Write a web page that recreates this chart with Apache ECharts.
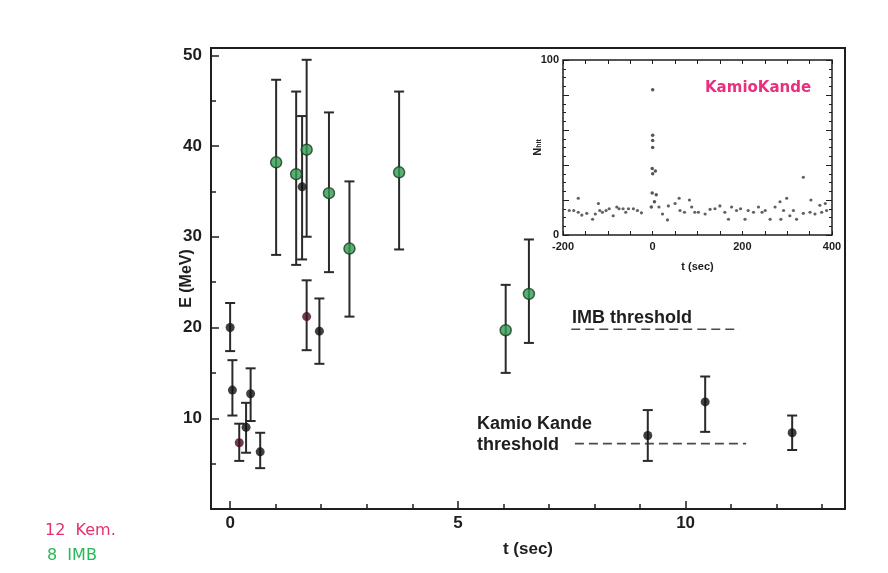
<!DOCTYPE html>
<html>
<head>
<meta charset="utf-8">
<script src="https://cdn.jsdelivr.net/npm/echarts@6/dist/echarts.min.js"></script>
<style>
  html, body { margin: 0; padding: 0; background: #fff; }
  #chart { width: 888px; height: 573px; }
</style>
</head>
<body>
<div id="chart"></div>
<script>
// SN1987A neutrino burst: Kamiokande and IMB events, energy vs. arrival time

// Kamiokande events (t in s, E in MeV, error bar limits)
const kamT  = [0.00, 0.05, 0.20, 0.35, 0.45, 0.66, 1.58, 1.68, 1.96, 9.17, 10.43, 12.34];
const kamE  = [20.0, 13.1, 7.3, 9.0, 12.7, 6.3, 35.5, 21.2, 19.6, 8.1, 11.8, 8.4];
const kamLo = [17.4, 10.3, 5.3, 6.2, 9.7, 4.5, 27.5, 17.5, 16.0, 5.3, 8.5, 6.5];
const kamHi = [22.7, 16.4, 9.4, 11.7, 15.5, 8.4, 43.3, 25.2, 23.2, 10.9, 14.6, 10.3];

// IMB events
const imbT  = [1.01, 1.45, 1.68, 2.17, 2.62, 3.71, 6.05, 6.56];
const imbE  = [38.2, 36.9, 39.6, 34.8, 28.7, 37.1, 19.7, 23.7];
const imbLo = [28.0, 26.9, 30.0, 26.1, 21.2, 28.6, 15.0, 18.3];
const imbHi = [47.3, 46.0, 49.5, 43.7, 36.1, 46.0, 24.7, 29.7];

// Detector thresholds (E level and t span of the dashed guide)
const imbThreshold = { E: 19.8, t: [7.49, 11.18] };
const kamThreshold = { E: 7.2,  t: [7.57, 11.33] };

// Main axes ticks
const xLabels = [0, 5, 10];
const xMinor  = [1, 2, 3, 4, 6, 7, 8, 9, 11, 12, 13];
const yLabels = [10, 20, 30, 40, 50];
const yMinor  = [5, 15, 25, 35, 45];

// Inset: Kamiokande hit counts around the burst (t in s, N_hit)
const insetBurstT = [0, 0, 0, 0, -1, 6, 0, -1, 8, 4, -3];
const insetBurstN = [83, 57, 54, 50, 38, 36.6, 35, 24, 23, 19, 16];
const insetBgT = [-166, -176, -166, -158, -147, -134, -121, -118, -112, -97, -88, -80, -75, -66, -54, -43,
                  -34, -25, 14, 35, 33, 50, 59, 61, 82, 87, 94, 102, 128, 139, 150, 161, 169, 176, 187,
                  206, 213, 225, 236, 251, 262, 273, 284, 286, 292, 299, 306, 321, 336, 336, 351, 353,
                  373, 377, 385, 388, -186, -128, -104, -60, 22, 71, 117, 196, 244, 314, 362];
const insetBgN = [21, 14, 13, 11.4, 12.4, 9, 18, 14, 13, 15, 11, 16, 15, 15, 15, 15,
                  14, 12.7, 16, 16.6, 8.6, 18, 21, 14, 20, 16, 13, 13, 14.7, 15, 16.6, 13, 9, 16, 14,
                  9, 14, 13, 16, 14, 9, 16, 19, 9, 14, 21, 11, 9, 33, 12.4, 13, 20,
                  17, 13, 18, 14, 14, 12, 14, 13, 12, 13, 12, 15, 13, 14, 12];
const insetXLabels = [-200, 0, 200, 400];
const insetXTicks  = [-200, -150, -100, -50, 0, 50, 100, 150, 200, 250, 300, 350, 400];
const insetYLabels = [0, 100];
const insetYMajor  = [0, 20, 40, 60, 80, 100];
const insetYMinor  = [5, 10, 15, 25, 30, 35, 45, 50, 55, 65, 70, 75, 85, 90, 95];

// ---- styling ----
const FONT = '"Liberation Sans", Arial, Helvetica, sans-serif';
const INK = '#1e1e1e';
const KAM_DARK_RED = [2, 7];   // events drawn in a dark red tint

function zip(a, b) { return a.map((v, i) => [v, b[i]]); }

function errorBarSeries(name, t, lo, hi) {
  return {
    name: name,
    type: 'custom',
    xAxisIndex: 0, yAxisIndex: 0,
    z: 2,
    data: t.map((v, i) => [v, lo[i], hi[i]]),
    renderItem: function (params, api) {
      const x = api.value(0);
      const pLo = api.coord([x, api.value(1)]);
      const pHi = api.coord([x, api.value(2)]);
      const cap = 5;
      const style = { stroke: '#2a2a2a', lineWidth: 2 };
      return {
        type: 'group',
        children: [
          { type: 'line', shape: { x1: pLo[0], y1: pLo[1], x2: pHi[0], y2: pHi[1] }, style: style },
          { type: 'line', shape: { x1: pHi[0] - cap, y1: pHi[1], x2: pHi[0] + cap, y2: pHi[1] }, style: style },
          { type: 'line', shape: { x1: pLo[0] - cap, y1: pLo[1], x2: pLo[0] + cap, y2: pLo[1] }, style: style }
        ]
      };
    }
  };
}

function tickAxis(opts) {
  return Object.assign({
    type: 'value',
    axisLine: { show: false, onZero: false },
    splitLine: { show: false },
    axisLabel: { show: false },
    nameMoveOverlap: false,
    axisTick: { show: true, inside: true, length: 5, lineStyle: { color: INK, width: 1.5 } }
  }, opts);
}

const chart = echarts.init(document.getElementById('chart'), null, { renderer: 'canvas' });

const option = {
  backgroundColor: '#ffffff',
  animation: false,
  grid: [
    { left: 211, top: 48, width: 634, height: 461, show: true, borderColor: INK, borderWidth: 2, backgroundColor: 'transparent' },
    { left: 563, top: 60, width: 269, height: 175, show: true, borderColor: INK, borderWidth: 1.5, backgroundColor: '#ffffff' }
  ],
  xAxis: [
    tickAxis({
      gridIndex: 0, min: -0.42, max: 13.5, position: 'bottom',
      axisTick: { show: true, inside: true, length: 8, customValues: xLabels, lineStyle: { color: INK, width: 1.5 } },
      axisLabel: { show: true, customValues: xLabels, margin: 6, color: INK, fontFamily: FONT, fontWeight: 'bold', fontSize: 17 },
      name: 't (sec)', nameLocation: 'middle', nameGap: 32,
      nameTextStyle: { color: INK, fontFamily: FONT, fontWeight: 'bold', fontSize: 17 }
    }),
    tickAxis({
      gridIndex: 0, min: -0.42, max: 13.5, position: 'bottom', offset: 0,
      axisTick: { show: true, inside: true, length: 5, customValues: xMinor, lineStyle: { color: INK, width: 1.5 } }
    }),
    tickAxis({
      gridIndex: 1, min: -200, max: 400, position: 'bottom',
      axisTick: { show: true, inside: true, length: 4, customValues: insetXTicks, lineStyle: { color: INK, width: 1 } },
      axisLabel: { show: true, customValues: insetXLabels, margin: 6, color: INK, fontFamily: FONT, fontWeight: 'bold', fontSize: 11 },
      name: 't (sec)', nameLocation: 'middle', nameGap: 26,
      nameTextStyle: { color: INK, fontFamily: FONT, fontWeight: 'bold', fontSize: 11 }
    }),
    tickAxis({
      gridIndex: 1, min: -200, max: 400, position: 'top',
      axisTick: { show: true, inside: true, length: 4, customValues: insetXTicks, lineStyle: { color: INK, width: 1 } }
    })
  ],
  yAxis: [
    tickAxis({
      gridIndex: 0, min: 0, max: 50.8, position: 'left',
      axisTick: { show: true, inside: true, length: 8, customValues: yLabels, lineStyle: { color: INK, width: 1.5 } },
      axisLabel: { show: true, customValues: yLabels, margin: 9, color: INK, fontFamily: FONT, fontWeight: 'bold', fontSize: 17 },
      name: 'E (MeV)', nameLocation: 'middle', nameGap: 16,
      nameTextStyle: { color: INK, fontFamily: FONT, fontWeight: 'bold', fontSize: 16 }
    }),
    tickAxis({
      gridIndex: 0, min: 0, max: 50.8, position: 'left', offset: 0,
      axisTick: { show: true, inside: true, length: 5, customValues: yMinor, lineStyle: { color: INK, width: 1.5 } }
    }),
    tickAxis({
      gridIndex: 1, min: 0, max: 100, position: 'left',
      axisTick: { show: true, inside: true, length: 6, customValues: insetYMajor, lineStyle: { color: INK, width: 1 } },
      axisLabel: { show: true, customValues: insetYLabels, margin: 4, color: INK, fontFamily: FONT, fontWeight: 'bold', fontSize: 11 },
      name: '{n|N}{s|hit}', nameLocation: 'middle', nameGap: 20,
      nameTextStyle: {
        color: INK, fontFamily: FONT, fontWeight: 'bold', fontSize: 11,
        rich: {
          n: { fontFamily: FONT, fontWeight: 'bold', fontSize: 11, color: INK },
          s: { fontFamily: FONT, fontWeight: 'bold', fontSize: 7, color: INK, verticalAlign: 'bottom', padding: [4, 0, 0, 0] }
        }
      }
    }),
    tickAxis({
      gridIndex: 1, min: 0, max: 100, position: 'left', offset: 0,
      axisTick: { show: true, inside: true, length: 3, customValues: insetYMinor, lineStyle: { color: INK, width: 1 } }
    }),
    tickAxis({
      gridIndex: 1, min: 0, max: 100, position: 'right',
      axisTick: { show: true, inside: true, length: 6, customValues: insetYMajor, lineStyle: { color: INK, width: 1 } }
    }),
    tickAxis({
      gridIndex: 1, min: 0, max: 100, position: 'right', offset: 0,
      axisTick: { show: true, inside: true, length: 3, customValues: insetYMinor, lineStyle: { color: INK, width: 1 } }
    })
  ],
  series: [
    errorBarSeries('Kamiokande errors', kamT, kamLo, kamHi),
    errorBarSeries('IMB errors', imbT, imbLo, imbHi),
    {
      name: 'IMB threshold', type: 'line', xAxisIndex: 0, yAxisIndex: 0, z: 1,
      data: imbThreshold.t.map(t => [t, imbThreshold.E]),
      symbol: 'none',
      lineStyle: { color: '#4a4a4a', width: 1.6, type: [9, 5] }
    },
    {
      name: 'Kamiokande threshold', type: 'line', xAxisIndex: 0, yAxisIndex: 0, z: 1,
      data: kamThreshold.t.map(t => [t, kamThreshold.E]),
      symbol: 'none',
      lineStyle: { color: '#4a4a4a', width: 1.6, type: [9, 5] }
    },
    {
      name: 'Kamiokande', type: 'scatter', xAxisIndex: 0, yAxisIndex: 0, z: 3,
      symbol: 'circle', symbolSize: 9,
      data: zip(kamT, kamE).map((p, i) => ({
        value: p,
        itemStyle: { color: KAM_DARK_RED.includes(i) ? '#4a0d1e' : '#101010' }
      })),
      itemStyle: { borderWidth: 0 }
    },
    {
      name: 'IMB', type: 'scatter', xAxisIndex: 0, yAxisIndex: 0, z: 3,
      symbol: 'circle', symbolSize: 11,
      data: zip(imbT, imbE),
      itemStyle: { color: '#2e9e50', borderColor: '#1d3a24', borderWidth: 1.5 }
    },
    {
      name: 'Hits near burst', type: 'scatter', xAxisIndex: 2, yAxisIndex: 2, z: 3,
      symbol: 'circle', symbolSize: 3.5,
      data: zip(insetBurstT, insetBurstN),
      itemStyle: { color: '#2b2b2b' }
    },
    {
      name: 'Background hits', type: 'scatter', xAxisIndex: 2, yAxisIndex: 2, z: 3,
      symbol: 'circle', symbolSize: 3.2,
      data: zip(insetBgT, insetBgN),
      itemStyle: { color: '#3a3a3a' }
    }
  ],
  graphic: [
    { type: 'text', left: 572, top: 309, style: { text: 'IMB threshold', fill: INK, font: 'bold 18px ' + FONT } },
    { type: 'text', left: 477, top: 415, style: { text: 'Kamio Kande', fill: INK, font: 'bold 18px ' + FONT } },
    { type: 'text', left: 477, top: 436, style: { text: 'threshold', fill: INK, font: 'bold 18px ' + FONT } },
    { type: 'text', left: 705, top: 81, style: { text: 'KamioKande', fill: '#e8307f', font: 'bold 15px "DejaVu Sans", sans-serif' } },
    { type: 'text', left: 45, top: 523, style: { text: '12  Kem.', fill: '#e8306a', font: '16px "DejaVu Sans", sans-serif' } },
    { type: 'text', left: 47, top: 548, style: { text: '8  IMB', fill: '#27b85a', font: '16px "DejaVu Sans", sans-serif' } }
  ]
};

chart.setOption(option);
</script>
</body>
</html>
